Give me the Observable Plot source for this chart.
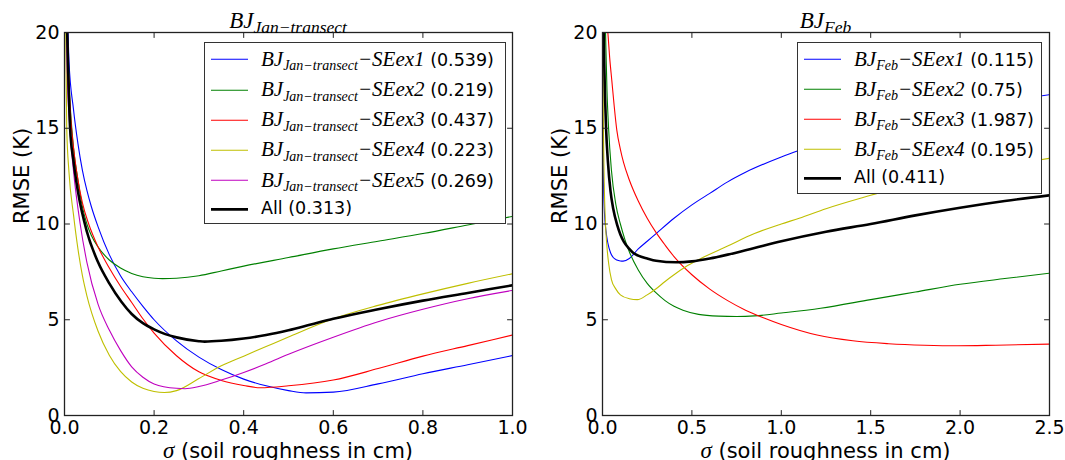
<!DOCTYPE html>
<html>
<head>
<meta charset="utf-8">
<script src="https://cdn.jsdelivr.net/npm/d3@7"></script>
<script src="https://cdn.jsdelivr.net/npm/@observablehq/plot@0.6"></script>
<style>
html,body{margin:0;padding:0;background:#fff;}
#chart{position:relative;width:1065px;height:460px;overflow:hidden;background:#fff;}
.panel{position:absolute;top:0;}
.panel svg{display:block;}
.math{font-family:"Liberation Serif",serif;font-style:italic;}
.sub{position:relative;}
.title{position:absolute;top:9px;transform:translateX(-50%);white-space:nowrap;font-size:23px;line-height:23px;}
.title .sub{font-size:17.5px;top:5px;}
.xlabel{position:absolute;top:440px;transform:translateX(-50%);white-space:nowrap;font-family:"DejaVu Sans",sans-serif;font-size:21px;line-height:21px;}
.xlabel .math{font-size:23px;}
.legend{position:absolute;background:#fff;border:1.2px solid #333;box-sizing:border-box;}
.row{position:absolute;left:6px;height:30px;display:flex;align-items:center;white-space:nowrap;}
.swatch{display:block;margin-right:13px;overflow:visible;}
.lbl{font-size:17.5px;line-height:1;}
.lbl .math{font-size:21px;}
.lbl .math .sub{font-size:14px;top:4.5px;}
.lbl .val{font-family:"DejaVu Sans",sans-serif;font-size:17.5px;}
</style>
</head>
<body>
<div id="chart"></div>
<script>
// ---------------- data ----------------
// Left panel: BJ Jan-transect, sigma (cm) vs RMSE (K)
const janTitleSub = "Jan\u2212transect";
const janSeriesNames = ["SEex1", "SEex2", "SEex3", "SEex4", "SEex5"];
const janOptima = [0.539, 0.219, 0.437, 0.223, 0.269];
const janAllOptimum = 0.313;

const janEx1 = [[0.006,22],[0.01,18.5],[0.02,16],[0.03,14.2],[0.04,12.8],[0.05,11.75],[0.06,10.9],[0.075,9.85],[0.1,8.4],[0.125,7.3],[0.15,6.46],[0.175,5.7],[0.2,5.0],[0.25,3.9],[0.3,3.05],[0.35,2.4],[0.4,1.9],[0.45,1.55],[0.5,1.3],[0.539,1.18],[0.6,1.22],[0.7,1.65],[0.8,2.18],[0.9,2.65],[1.0,3.13]];
const janEx2 = [[0.005,21],[0.01,17.5],[0.02,14],[0.03,12.3],[0.04,10.9],[0.05,10.0],[0.06,9.4],[0.075,8.8],[0.1,8.12],[0.125,7.7],[0.15,7.42],[0.175,7.25],[0.2,7.17],[0.219,7.15],[0.25,7.17],[0.3,7.3],[0.35,7.55],[0.4,7.8],[0.5,8.25],[0.6,8.7],[0.7,9.1],[0.8,9.5],[0.9,9.95],[1.0,10.4]];
const janEx3 = [[0.004,22],[0.008,18.5],[0.015,15.2],[0.02,14],[0.03,12.3],[0.04,11.1],[0.054,10],[0.075,8.8],[0.1,7.7],[0.125,6.75],[0.15,5.9],[0.175,5.05],[0.2,4.3],[0.25,3.12],[0.3,2.28],[0.35,1.83],[0.4,1.57],[0.437,1.45],[0.5,1.55],[0.6,1.85],[0.7,2.45],[0.8,3.1],[0.9,3.65],[1.0,4.2]];
const janEx4 = [[0.002,22],[0.005,15],[0.01,12.7],[0.02,10.5],[0.03,8.7],[0.04,7.3],[0.05,6.25],[0.075,4.4],[0.1,3.15],[0.125,2.3],[0.15,1.75],[0.175,1.42],[0.2,1.25],[0.223,1.2],[0.25,1.3],[0.3,1.93],[0.35,2.6],[0.4,3.1],[0.45,3.6],[0.5,4.1],[0.6,5.05],[0.7,5.75],[0.8,6.35],[0.9,6.9],[1.0,7.4]];
const janEx5 = [[0.003,22],[0.006,18],[0.012,15],[0.02,12.8],[0.035,10],[0.05,8.0],[0.075,5.8],[0.1,4.46],[0.125,3.4],[0.15,2.54],[0.175,2.0],[0.2,1.65],[0.25,1.42],[0.269,1.4],[0.3,1.51],[0.35,1.85],[0.4,2.25],[0.45,2.7],[0.5,3.2],[0.6,4.09],[0.7,4.9],[0.8,5.55],[0.9,6.1],[1.0,6.53]];
const janAll = [[0.005,21],[0.0125,15],[0.02,13.3],[0.03,11.7],[0.05,9.6],[0.075,8.0],[0.1,6.9],[0.127,5.94],[0.15,5.3],[0.175,4.82],[0.2,4.5],[0.225,4.25],[0.25,4.08],[0.3,3.88],[0.313,3.86],[0.35,3.9],[0.4,4.02],[0.45,4.2],[0.5,4.45],[0.55,4.75],[0.6,5.05],[0.7,5.55],[0.8,6.0],[0.9,6.4],[1.0,6.8]];

// Right panel: BJ Feb
const febTitleSub = "Feb";
const febSeriesNames = ["SEex1", "SEex2", "SEex3", "SEex4"];
const febOptima = [0.115, 0.75, 1.987, 0.195];
const febAllOptimum = 0.411;

const febEx1 = [[0.0015,15.5],[0.005,12.5],[0.01,10.8],[0.02,9.6],[0.03,9.0],[0.045,8.5],[0.06,8.25],[0.08,8.12],[0.1,8.07],[0.115,8.06],[0.15,8.2],[0.2,8.7],[0.25,9.1],[0.3,9.5],[0.4,10.3],[0.5,11.0],[0.6,11.6],[0.7,12.2],[0.8,12.7],[1.0,13.5],[1.25,14.3],[1.5,15.0],[2.0,16.0],[2.5,16.75]];
const febEx2 = [[0.012,22],[0.017,20],[0.025,17],[0.034,15],[0.05,12.8],[0.075,11.0],[0.1,10.0],[0.125,9.2],[0.15,8.55],[0.2,7.6],[0.25,6.9],[0.3,6.4],[0.35,6.0],[0.4,5.7],[0.45,5.5],[0.537,5.28],[0.65,5.19],[0.75,5.17],[0.85,5.2],[1.0,5.35],[1.22,5.6],[1.5,6.05],[1.75,6.45],[2.0,6.85],[2.25,7.15],[2.5,7.43]];
const febEx3 = [[0.02,21.5],[0.03,20],[0.04,18.7],[0.052,17.5],[0.065,16.2],[0.08,14.9],[0.1,13.9],[0.118,13.2],[0.15,12.3],[0.2,11.2],[0.25,10.3],[0.3,9.55],[0.35,8.9],[0.4,8.3],[0.5,7.35],[0.6,6.6],[0.7,6.0],[0.8,5.5],[0.9,5.1],[1.0,4.75],[1.2,4.2],[1.4,3.9],[1.6,3.75],[1.8,3.67],[1.987,3.64],[2.2,3.67],[2.5,3.73]];
const febEx4 = [[0.002,21],[0.004,16.5],[0.008,13],[0.015,10.4],[0.025,8.8],[0.035,7.9],[0.05,7.1],[0.075,6.6],[0.1,6.3],[0.15,6.1],[0.195,6.05],[0.25,6.3],[0.3,6.62],[0.35,7.0],[0.4,7.35],[0.463,7.75],[0.54,8.15],[0.7,8.85],[0.85,9.5],[1.0,10.0],[1.1,10.3],[1.25,10.8],[1.5,11.5],[1.75,12.15],[2.0,12.65],[2.25,13.05],[2.5,13.43]];
const febAll = [[0.005,21],[0.01,18.3],[0.02,15],[0.03,13.3],[0.045,11.7],[0.06,10.8],[0.082,9.95],[0.1,9.45],[0.119,9.08],[0.15,8.7],[0.175,8.47],[0.2,8.35],[0.25,8.2],[0.3,8.08],[0.411,8.0],[0.5,8.05],[0.6,8.2],[0.7,8.4],[0.85,8.75],[1.0,9.1],[1.25,9.6],[1.5,10.0],[1.75,10.45],[2.0,10.85],[2.25,11.2],[2.5,11.5]];

// Axes
const yTicks = [0, 5, 10, 15, 20];
const janXTicks = [0.0, 0.2, 0.4, 0.6, 0.8, 1.0];
const febXTicks = [0.0, 0.5, 1.0, 1.5, 2.0, 2.5];
const yLabel = "RMSE (K)";
const xLabelRest = " (soil roughness in cm)";
const seriesColors = ["#0000ff", "#008000", "#ff0000", "#bfbf00", "#bf00bf"];

// ---------------- drawing ----------------
const chart = document.getElementById("chart");
const tickShape = {draw(context, l) { context.moveTo(0, 0); context.lineTo(0, -l); }};

function makePanel({left, width, marginLeft, marginRight, xDomain, xTicks, series, all}) {
  const marks = [];
  series.forEach((s, i) => marks.push(Plot.line(s, {
    x: d => d[0], y: d => d[1], stroke: seriesColors[i], strokeWidth: 1.1, curve: "monotone-x", clip: true
  })));
  marks.push(Plot.line(all, {x: d => d[0], y: d => d[1], stroke: "#000", strokeWidth: 2.6, curve: "monotone-x", clip: true}));
  marks.push(Plot.frame({stroke: "#222", strokeWidth: 1.3}));
  const tk = {length: 5, anchor: "start", shape: tickShape, stroke: "#222", strokeWidth: 1};
  marks.push(Plot.vector(xTicks, {x: d => d, frameAnchor: "bottom", rotate: 0, ...tk}));
  marks.push(Plot.vector(xTicks, {x: d => d, frameAnchor: "top", rotate: 180, ...tk}));
  marks.push(Plot.vector(yTicks, {y: d => d, frameAnchor: "left", rotate: 90, ...tk}));
  marks.push(Plot.vector(yTicks, {y: d => d, frameAnchor: "right", rotate: -90, ...tk}));
  marks.push(Plot.axisX({ticks: xTicks, tickSize: 0, tickPadding: 5, tickFormat: d3.format(".1f"), fontSize: 19, label: null}));
  marks.push(Plot.axisY({ticks: yTicks, tickSize: 0, tickPadding: 5, tickFormat: d3.format("d"), fontSize: 19, label: null}));
  marks.push(Plot.text([yLabel], {frameAnchor: "left", dx: -42, rotate: -90, fontSize: 21, fill: "#000"}));
  const svg = Plot.plot({
    width, height: 460, marginLeft, marginRight, marginTop: 32, marginBottom: 45,
    x: {domain: xDomain}, y: {domain: [0, 20]},
    style: {fontFamily: "DejaVu Sans", fontSize: "19px", background: "transparent", color: "#000", overflow: "visible"},
    marks
  });
  const div = document.createElement("div");
  div.className = "panel";
  div.style.left = left + "px";
  div.appendChild(svg);
  chart.appendChild(div);
  return {frameLeft: left + marginLeft, frameRight: left + width - marginRight};
}

function addTitle(center, sub) {
  const t = document.createElement("div");
  t.className = "title math";
  t.style.left = center + "px";
  t.innerHTML = `BJ<span class="sub">${sub}</span>`;
  chart.appendChild(t);
}
function addXLabel(center) {
  const t = document.createElement("div");
  t.className = "xlabel";
  t.style.left = center + "px";
  t.innerHTML = `<span class="math">\u03c3</span>${xLabelRest}`;
  chart.appendChild(t);
}
function addLegend({left, top, width, height, sub, names, optima, allOpt, rowGap, lastGap}) {
  const box = document.createElement("div");
  box.className = "legend";
  Object.assign(box.style, {left: left + "px", top: top + "px", width: width + "px", height: height + "px"});
  let c = 16.3;
  const rows = names.map((n, i) => ({color: seriesColors[i], w: 1.1,
    html: `<span class="math">BJ<span class="sub">${sub}</span>\u2212${n}</span><span class="val"> (${optima[i]})</span>`}));
  rows.push({color: "#000", w: 2.8, html: `<span class="val">All (${allOpt})</span>`});
  rows.forEach((r, i) => {
    const row = document.createElement("div");
    row.className = "row";
    row.style.top = (c - 15) + "px";
    row.innerHTML = `<svg class="swatch" width="37" height="8"><line x1="0" x2="37" y1="4.3" y2="4.3" stroke="${r.color}" stroke-width="${r.w}"></line></svg><span class="lbl">${r.html}</span>`;
    box.appendChild(row);
    c += (i === rows.length - 2) ? lastGap : rowGap;
  });
  chart.appendChild(box);
}

const L = makePanel({left: 0, width: 530, marginLeft: 64, marginRight: 18, xDomain: [0, 1], xTicks: janXTicks,
  series: [janEx1, janEx2, janEx3, janEx4, janEx5], all: janAll});
const R = makePanel({left: 530, width: 535, marginLeft: 72, marginRight: 16, xDomain: [0, 2.5], xTicks: febXTicks,
  series: [febEx1, febEx2, febEx3, febEx4], all: febAll});

addTitle((L.frameLeft + L.frameRight) / 2, janTitleSub);
addTitle((R.frameLeft + R.frameRight) / 2, febTitleSub);
addXLabel((L.frameLeft + L.frameRight) / 2);
addXLabel((R.frameLeft + R.frameRight) / 2);

addLegend({left: 204, top: 42, width: 302, height: 182, sub: janTitleSub, names: janSeriesNames, optima: janOptima, allOpt: janAllOptimum, rowGap: 30.2, lastGap: 28.7});
addLegend({left: 797, top: 42, width: 245, height: 152, sub: febTitleSub, names: febSeriesNames, optima: febOptima, allOpt: febAllOptimum, rowGap: 30, lastGap: 28.4});
</script>
</body>
</html>
